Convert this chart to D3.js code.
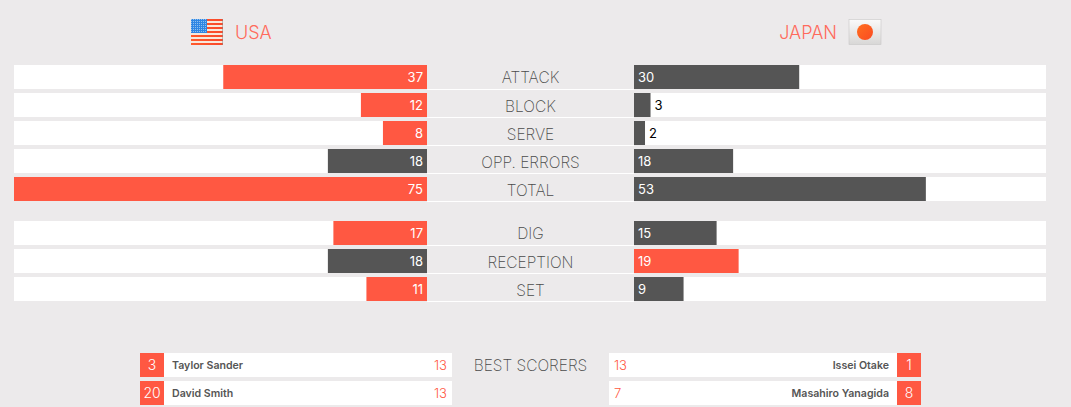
<!DOCTYPE html>
<html>
<head>
<meta charset="utf-8">
<style type="text/css">
	html, body { margin: 0; padding: 0; background: #eceaeb; overflow: hidden; }
	svg { display: block; }
	text { font-family: Inter, "Open Sans", sans-serif; }
	.title { font-size: 18px; font-weight: 300; fill: #ff6a5c; }
	.cat { font-size: 15.5px; font-weight: 200; fill: #4a4a4a; text-anchor: middle; }
	.val { font-size: 13px; font-weight: 400; }
	.name { font-size: 10.6px; font-weight: 600; fill: #555; }
	.pts { font-size: 13px; font-weight: 300; fill: #ff5842; }
	.num { font-size: 14px; font-weight: 300; fill: white; text-anchor: middle; }
</style>
</head>
<body>
<svg class="chart" width="1071" height="407"></svg>
<script src="https://d3js.org/d3.v7.min.js"></script>
<script>
var teams = ["USA", "JAPAN"];

var scoreCats = ["ATTACK", "BLOCK", "SERVE", "OPP. ERRORS", "TOTAL"];
var scoreUsa = [37, 12, 8, 18, 75];
var scoreJapan = [30, 3, 2, 18, 53];

var otherCats = ["DIG", "RECEPTION", "SET"];
var otherUsa = [17, 18, 11];
var otherJapan = [15, 19, 9];

var usaShirts = [3, 20];
var usaNames = ["Taylor Sander", "David Smith"];
var usaPoints = [13, 13];
var japanShirts = [1, 8];
var japanNames = ["Issei Otake", "Masahiro Yanagida"];
var japanPoints = [13, 7];

var orange = "#ff5842", dark = "#555555";

var svg = d3.select("svg");

//bar length, shared by both groups and both sides
var barLen = d3.scaleLinear().domain([0, 75]).range([0, 413]);
var leftEnd = 427, rightStart = 634;

function drawGroup(cats, usa, japan, top, bottom) {
	var y = d3.scaleBand().domain(cats).range([top, bottom]).paddingInner(4 / 28);

	var row = svg.append("g").selectAll("g")
		.data(cats)
		.enter()
		.append("g");

	//white line under the label, between the two bars
	row.append("rect")
		.attr("x", leftEnd).attr("width", rightStart - leftEnd)
		.attr("y", function(d) { return y(d) + y.bandwidth(); })
		.attr("height", 1).attr("fill", "white");

	//white tracks
	row.append("rect")
		.attr("x", 14).attr("width", leftEnd - 14)
		.attr("y", function(d) { return y(d); })
		.attr("height", y.bandwidth()).attr("fill", "white");
	row.append("rect")
		.attr("x", rightStart).attr("width", 412)
		.attr("y", function(d) { return y(d); })
		.attr("height", y.bandwidth()).attr("fill", "white");

	//bars, the side with more points is orange, a tie is dark on both
	row.append("rect")
		.attr("x", function(d, i) { return leftEnd - barLen(usa[i]); })
		.attr("width", function(d, i) { return barLen(usa[i]); })
		.attr("y", function(d) { return y(d); })
		.attr("height", y.bandwidth())
		.attr("fill", function(d, i) { return usa[i] > japan[i] ? orange : dark; });
	row.append("rect")
		.attr("x", rightStart)
		.attr("width", function(d, i) { return barLen(japan[i]); })
		.attr("y", function(d) { return y(d); })
		.attr("height", y.bandwidth())
		.attr("fill", function(d, i) { return japan[i] > usa[i] ? orange : dark; });

	row.append("text")
		.attr("class", "val")
		.attr("x", leftEnd - 4)
		.attr("y", function(d) { return y(d) + 17; })
		.attr("text-anchor", "end")
		.attr("fill", "white")
		.text(function(d, i) { return usa[i]; });

	row.append("text")
		.attr("class", "val")
		.attr("x", function(d, i) {
			var w = barLen(japan[i]);
			return w < 25 ? rightStart + w + 4 : rightStart + 4;
		})
		.attr("y", function(d) { return y(d) + 17; })
		.attr("fill", function(d, i) { return barLen(japan[i]) < 25 ? "black" : "white"; })
		.text(function(d, i) { return japan[i]; });

	//first label of a group sits a pixel higher in the original
	row.append("text")
		.attr("class", "cat")
		.attr("x", 530.5)
		.attr("y", function(d, i) { return y(d) + (i == 0 ? 18 : 19); })
		.text(function(d) { return d; });
}

function drawScorers(names, shirts, points, left) {
	var y = d3.scaleBand().domain(names).range([353, 405]).paddingInner(4 / 28);

	var row = svg.append("g").selectAll("g")
		.data(names)
		.enter()
		.append("g");

	var whiteX = left ? 164 : 609;
	var boxX = left ? 140 : 897;

	row.append("rect")
		.attr("x", whiteX).attr("width", 288)
		.attr("y", function(d) { return y(d); })
		.attr("height", y.bandwidth()).attr("fill", "white");
	row.append("rect")
		.attr("x", boxX).attr("width", 24)
		.attr("y", function(d) { return y(d); })
		.attr("height", y.bandwidth()).attr("fill", orange);

	row.append("text")
		.attr("class", "num")
		.attr("x", boxX + 12)
		.attr("y", function(d) { return y(d) + 17; })
		.text(function(d, i) { return shirts[i]; });

	row.append("text")
		.attr("class", "name")
		.attr("x", left ? 172 : 889)
		.attr("y", function(d) { return y(d) + 16; })
		.attr("text-anchor", left ? "start" : "end")
		.text(function(d) { return d; });

	row.append("text")
		.attr("class", "pts")
		.attr("x", left ? 447 : 614)
		.attr("y", function(d) { return y(d) + 17; })
		.attr("text-anchor", left ? "end" : "start")
		.text(function(d, i) { return points[i]; });
}

function drawUsaFlag(g) {
	var defs = svg.append("defs");
	var grad = defs.append("linearGradient").attr("id", "flagShade").attr("x1", 0).attr("x2", 1).attr("y1", 0).attr("y2", 0);
	grad.append("stop").attr("offset", "0%").attr("stop-color", "#ff5a2c");
	grad.append("stop").attr("offset", "100%").attr("stop-color", "#f9482a");

	var dots = defs.append("pattern").attr("id", "flagStars").attr("width", 2).attr("height", 2).attr("patternUnits", "userSpaceOnUse");
	dots.append("rect").attr("width", 2).attr("height", 2).attr("fill", "#2f86e4");
	dots.append("rect").attr("width", 1).attr("height", 1).attr("fill", "#8fc0ee");

	g.append("rect").attr("width", 32).attr("height", 26).attr("fill", "#f7e8dc");
	d3.range(7).forEach(function(i) {
		g.append("rect")
			.attr("y", i * 4)
			.attr("width", 32)
			.attr("height", 2)
			.attr("fill", "url(#flagShade)");
	});
	g.append("rect").attr("width", 16).attr("height", 14).attr("fill", "url(#flagStars)");
	g.append("rect").attr("x", 31).attr("width", 1).attr("height", 26).attr("fill", "#888").attr("opacity", 0.5);
}

function drawJapanFlag(g) {
	var defs = svg.append("defs");
	var grad = defs.append("linearGradient").attr("id", "jpShade").attr("x1", 0).attr("x2", 0).attr("y1", 0).attr("y2", 1);
	grad.append("stop").attr("offset", "0%").attr("stop-color", "#fafafa");
	grad.append("stop").attr("offset", "100%").attr("stop-color", "#d8d7d6");
	var sun = defs.append("linearGradient").attr("id", "jpSun").attr("x1", 0).attr("x2", 1).attr("y1", 0).attr("y2", 1);
	sun.append("stop").attr("offset", "0%").attr("stop-color", "#ff7020");
	sun.append("stop").attr("offset", "100%").attr("stop-color", "#fb4a22");

	g.append("rect").attr("width", 32).attr("height", 25).attr("fill", "url(#jpShade)").attr("stroke", "#c8c7c6").attr("stroke-width", 0.6);
	g.append("circle").attr("cx", 16).attr("cy", 12.5).attr("r", 8).attr("fill", "url(#jpSun)");
}

//header
svg.append("text").attr("class", "title").attr("x", 235).attr("y", 39).text(teams[0]);
svg.append("text").attr("class", "title").attr("x", 837).attr("y", 39).attr("text-anchor", "end").text(teams[1]);
drawUsaFlag(svg.append("g").attr("transform", "translate(191,19)"));
drawJapanFlag(svg.append("g").attr("transform", "translate(849,19.5)"));

drawGroup(scoreCats, scoreUsa, scoreJapan, 65, 201);
drawGroup(otherCats, otherUsa, otherJapan, 221, 301);

svg.append("text").attr("class", "cat").attr("x", 530.5).attr("y", 370.5).text("BEST SCORERS");
drawScorers(usaNames, usaShirts, usaPoints, true);
drawScorers(japanNames, japanShirts, japanPoints, false);
</script>
</body>
</html>
